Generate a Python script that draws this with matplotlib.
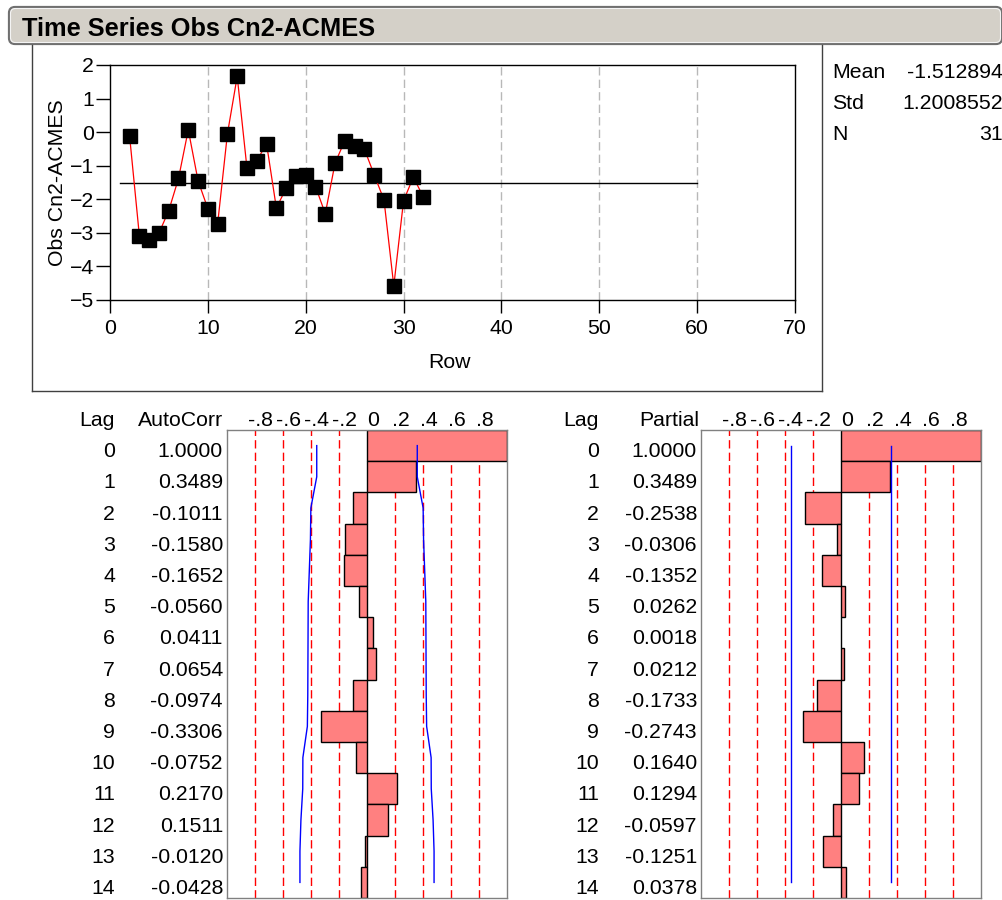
import matplotlib
matplotlib.use("Agg")
import matplotlib.pyplot as plt
from matplotlib.patches import FancyBboxPatch
from matplotlib.transforms import blended_transform_factory

plt.rcParams['font.family'] = ['Liberation Sans', 'DejaVu Sans']

# ---- data ----
rows = [2, 3, 4, 5, 6, 7, 8, 9, 10, 11, 12, 13, 14, 15, 16, 17,
        18, 19, 20, 21, 22, 23, 24, 25, 26, 27, 28, 29, 30, 31, 32]
obs = [-0.11, -3.08, -3.21, -3.01, -2.34, -1.38, 0.07, -1.45, -2.28, -2.73,
       -0.05, 1.66, -1.08, -0.85, -0.35, -2.26, -1.67, -1.32, -1.27, -1.62,
       -2.43, -0.92, -0.25, -0.41, -0.51, -1.27, -2.02, -4.58, -2.04, -1.34,
       -1.92]
mean_span = [1, 60]
obs_mean = -1.512894
stats_names = ['Mean', 'Std', 'N']
stats_vals = ['-1.512894', '1.2008552', '31']

lags = [0, 1, 2, 3, 4, 5, 6, 7, 8, 9, 10, 11, 12, 13, 14]
autocorr = [1.0000, 0.3489, -0.1011, -0.1580, -0.1652, -0.0560, 0.0411,
            0.0654, -0.0974, -0.3306, -0.0752, 0.2170, 0.1511, -0.0120,
            -0.0428]
partial = [1.0000, 0.3489, -0.2538, -0.0306, -0.1352, 0.0262, 0.0018,
           0.0212, -0.1733, -0.2743, 0.1640, 0.1294, -0.0597, -0.1251,
           0.0378]
# blue 2-sigma limits
acf_limit = [0.359, 0.359, 0.401, 0.404, 0.412, 0.420, 0.421, 0.422,
             0.423, 0.426, 0.458, 0.459, 0.472, 0.479, 0.479]
pacf_limit = [0.359, 0.359, 0.359, 0.359, 0.359, 0.359, 0.359, 0.359,
              0.359, 0.359, 0.359, 0.359, 0.359, 0.359, 0.359]
ref_lines = [-0.8, -0.6, -0.4, -0.2, 0.2, 0.4, 0.6, 0.8]
ref_labels = ['-.8', '-.6', '-.4', '-.2', '0', '.2', '.4', '.6', '.8']
ref_label_pos = [-0.8, -0.6, -0.4, -0.2, 0.0, 0.2, 0.4, 0.6, 0.8]

W, H = 1003, 900
FS = 15.3

fig = plt.figure(figsize=(W / 100, H / 100), dpi=100)

# background axes in pixel units, for the report frame
bg = fig.add_axes([0, 0, 1, 1])
bg.set_xlim(0, W)
bg.set_ylim(H, 0)
bg.axis('off')


def box(l, t, r, b):
    return [l / W, 1 - b / H, (r - l) / W, (b - t) / H]


# title bar
bg.add_patch(FancyBboxPatch((9, 7), 993, 37,
                            boxstyle='round,pad=0,rounding_size=6',
                            fc='#d4d0c8', ec='#707070', lw=1.6))
bg.add_patch(FancyBboxPatch((10.5, 8.5), 990, 34,
                            boxstyle='round,pad=0,rounding_size=5',
                            fc='none', ec='#f4f4f4', lw=0.8))
bg.text(22, 36, 'Time Series Obs Cn2-ACMES', fontsize=18.3,
        fontweight='bold', ha='left', va='baseline')

# frame round the time series plot
bg.plot([32.5, 32.5], [45, 390.5], color='#404040', lw=1)
bg.plot([32.5, 822], [390.5, 390.5], color='#404040', lw=1)
bg.plot([822, 822], [45, 390.5], color='#404040', lw=1)

for i, (nm, vl) in enumerate(zip(stats_names, stats_vals)):
    y = 78 + 31 * i
    bg.text(832, y, nm, fontsize=FS, ha='left', va='baseline')
    bg.text(1003, y, vl, fontsize=FS, ha='right', va='baseline')

# ---- time series plot ----
ax = fig.add_axes(box(110, 65, 795, 300))
for x in [10, 20, 30, 40, 50, 60]:
    ax.axvline(x, color='#b8b8b8', lw=1, ls=(0, (6, 3)), zorder=1)
ax.plot(mean_span, [obs_mean, obs_mean], color='black', lw=1, zorder=2)
ax.plot(rows, obs, color='red', lw=0.9, zorder=3)
ax.plot(rows, obs, 's', color='black', ms=9.5, zorder=4)
ax.set_xlim(0, 70)
ax.set_ylim(-5, 2)
ax.set_xticks([0, 10, 20, 30, 40, 50, 60, 70])
ax.set_yticks([-5, -4, -3, -2, -1, 0, 1, 2])
ax.tick_params(axis='y', length=10, width=1, pad=1.5, labelsize=FS)
ax.tick_params(axis='x', length=9.5, width=1, pad=4, labelsize=FS)
for s in ax.spines.values():
    s.set_color('black')
    s.set_linewidth(1)
ax.set_ylabel('Obs Cn2-ACMES', fontsize=FS)
ax.yaxis.set_label_coords(-0.076, 0.5)
ax.yaxis.label.set_va('center')
ax.set_xlabel('Row', fontsize=FS)
ax.xaxis.set_label_coords(0.496, -0.264)
ax.xaxis.label.set_va('center')


# ---- correlation panels ----
def corr_panel(left, right, vals, limits, header, lag_right, head_right,
               val_right):
    a = fig.add_axes(box(left, 430, right, 898))
    a.set_xlim(-1, 1)
    a.set_ylim(14.5, -0.5)
    a.set_xticks([])
    a.set_yticks([])
    for s in a.spines.values():
        s.set_color('#808080')
        s.set_linewidth(1)
    for r in ref_lines:
        a.axvline(r, color='red', lw=1, ls=(0, (6, 3)), zorder=1)
    a.barh(lags, vals, height=1, color='#ff8080', edgecolor='black',
           lw=1, zorder=2)
    a.plot(limits, lags, color='blue', lw=1, zorder=3)
    a.plot([-v for v in limits], lags, color='blue', lw=1, zorder=3)
    for lbl, p in zip(ref_labels, ref_label_pos):
        a.text(p + 0.04, -0.62, lbl, fontsize=FS, ha='center',
               va='baseline', clip_on=False)
    tr = blended_transform_factory(bg.transData, a.transData)
    a.text(lag_right, -0.62, 'Lag', fontsize=FS, ha='right',
           va='baseline', transform=tr)
    a.text(head_right, -0.62, header, fontsize=FS, ha='right',
           va='baseline', transform=tr)
    for lg, v in zip(lags, vals):
        a.text(lag_right, lg + 0.37, str(lg), fontsize=FS, ha='right',
               va='baseline', transform=tr)
        a.text(val_right, lg + 0.37, '%.4f' % v, fontsize=FS, ha='right',
               va='baseline', transform=tr)
    return a


corr_panel(227, 507, autocorr, acf_limit, 'AutoCorr', 115, 223, 223)
corr_panel(701, 981, partial, pacf_limit, 'Partial', 599, 699, 697)

fig.savefig('out.png', dpi=100)
